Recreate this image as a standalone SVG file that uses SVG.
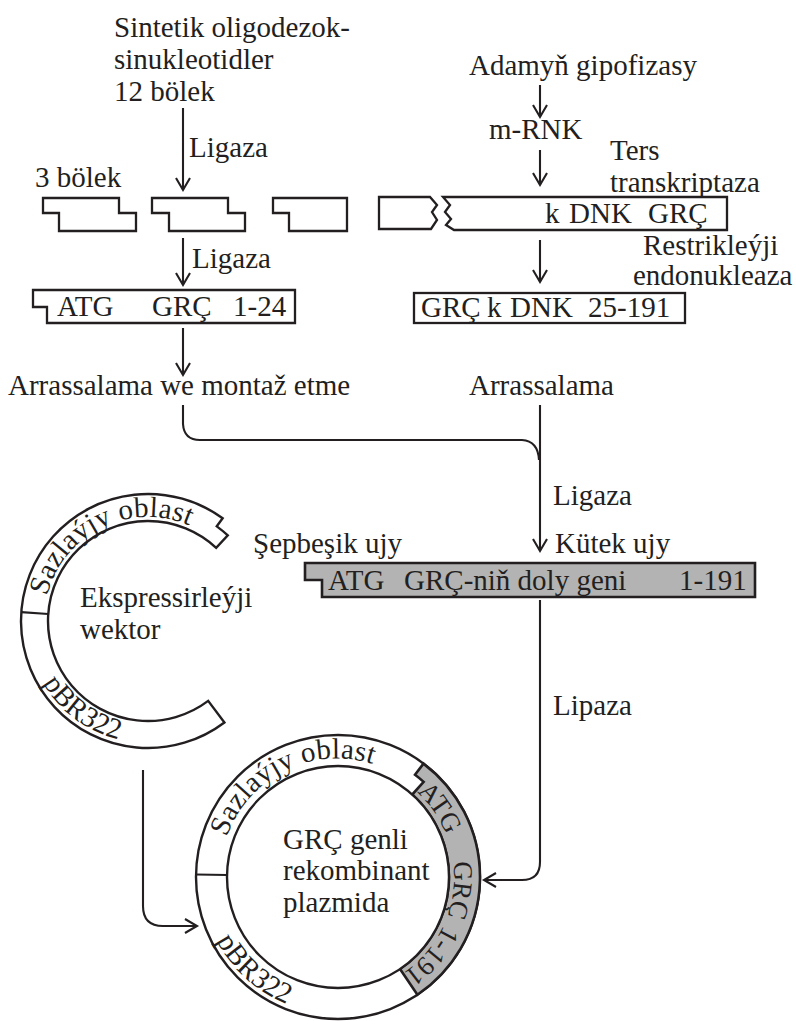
<svg xmlns="http://www.w3.org/2000/svg" xmlns:xlink="http://www.w3.org/1999/xlink" width="796" height="1021" viewBox="0 0 796 1021">
<style>
text{font-family:"Liberation Serif","Times New Roman",serif;font-size:29px;fill:#231f20}
.arc{font-size:27px}
.ln{fill:none;stroke:#231f20;stroke-width:2.1}
.bx{fill:#fff;stroke:#231f20;stroke-width:2.3}
.gr{fill:#b3b3b3;stroke:#231f20;stroke-width:2.6}
.ring{fill:#fff;stroke:#231f20;stroke-width:2.4}
</style>
<defs>
<marker id="ah" markerUnits="userSpaceOnUse" markerWidth="18" markerHeight="18" viewBox="0 0 18 18" refX="15" refY="9" orient="auto">
<path d="M3,2 L15,9 L3,16" fill="none" stroke="#231f20" stroke-width="2.1"/>
</marker>
<path id="tpC1" d="M44.4,611.9 A104,104 0 0 1 227.7,554.1"/>
<path id="tpC2" d="M30.16,652.58 A122,122 0 0 0 189.73,735.64"/>
<path id="tpP1" d="M221.79,856.51 A117,117 0 0 1 397,774.81"/>
<path id="tpP2" d="M205.67,912.46 A137,137 0 0 0 361.79,1011.92"/>
<path id="tpG" d="M396,776.54 A116,116 0 0 1 396,977.46"/>
</defs>

<g id="labels">
<text x="114" y="37">Sintetik oligodezok-</text>
<text x="114" y="69">sinukleotidler</text>
<text x="114" y="101">12 bölek</text>
<text x="189" y="157">Ligaza</text>
<text x="35" y="187">3 bölek</text>
<text x="469" y="75">Adamyň gipofizasy</text>
<text x="489" y="139">m-RNK</text>
<text x="610" y="160">Ters</text>
<text x="610" y="192">transkriptaza</text>
<text x="643" y="255">Restrikleýji</text>
<text x="633" y="285">endonukleaza</text>
<text x="192" y="268">Ligaza</text>
<text x="8" y="395">Arrassalama we montaž etme</text>
<text x="469" y="395">Arrassalama</text>
<text x="553" y="505">Ligaza</text>
<text x="253" y="553">Şepbeşik ujy</text>
<text x="555" y="553">Kütek ujy</text>
<text x="553" y="715">Lipaza</text>
</g>

<g id="fragment1"><path class="bx" d="M43,198 H119 V213 H136 V231 H59 V213 H43 Z"/></g>
<g id="fragment2"><path class="bx" d="M152,198 H228 V213 H245 V231 H169 V213 H152 Z"/></g>
<g id="fragment3"><path class="bx" d="M273,198 H347 V231 H289 V213 H273 Z"/></g>

<g id="cdna">
<path class="bx" d="M379,197 H430 L437,205 L432,212 L437,220 L431,229 H379 Z"/>
<path class="bx" d="M443,197 H727 V230 H454 L446,225 L451,219 L445,212 L450,205 Z"/>
<text y="223"><tspan x="545">k</tspan><tspan x="569">DNK</tspan><tspan x="648">GRÇ</tspan></text>
</g>

<g id="box-atg124">
<path class="bx" d="M33,290 H295 V323 H47 V307 H33 Z"/>
<text x="57" y="316">ATG</text>
<text x="152" y="316">GRÇ</text>
<text x="233" y="316">1-24</text>
</g>

<g id="box-cdna25">
<rect class="bx" x="414" y="293" width="271" height="30"/>
<text y="317"><tspan x="421">GRÇ</tspan><tspan x="487">k</tspan><tspan x="510">DNK</tspan><tspan x="588">25-191</tspan></text>
</g>

<g id="box-gene">
<path class="gr" d="M305,563 H755 V597 H322 V580 H305 Z"/>
<text x="328" y="590">ATG</text>
<text x="404" y="590">GRÇ-niň doly geni</text>
<text x="679" y="590">1-191</text>
</g>

<g id="vector">
<path class="ring" d="M222.65,518.26 A127,127 0 1 0 224.43,722.42 L208.18,700.86 A100,100 0 1 1 216.20,547.86 L227.79,535.43 A117,117 0 0 0 216.77,526.35 Z"/>
<line class="ln" x1="21.3" y1="612.14" x2="48.24" y2="614.02"/>
<text letter-spacing="0.3"><textPath xlink:href="#tpC1" startOffset="16">Sazlaýjy oblast</textPath></text>
<text><textPath xlink:href="#tpC2" startOffset="33">pBR322</textPath></text>
<text x="80" y="607">Ekspressirleýji</text>
<text x="80" y="639">wektor</text>
</g>

<g id="plasmid">
<circle class="ring" cx="338" cy="877" r="142"/>
<path class="gr" d="M423.46,763.60 A142,142 0 0 1 417.41,994.72 L400.07,969.02 A111,111 0 0 0 412.27,794.51 L423.65,781.88 A128,128 0 0 0 415.03,774.78 Z"/>
<circle class="ring" cx="338" cy="877" r="111"/>
<line class="ln" x1="196.02" y1="874.52" x2="227.02" y2="875.06"/>
<text letter-spacing="0.3"><textPath xlink:href="#tpP1" startOffset="20">Sazlaýjy oblast</textPath></text>
<text><textPath xlink:href="#tpP2" startOffset="30">pBR322</textPath></text>
<text class="arc"><textPath xlink:href="#tpG" startOffset="26">ATG</textPath></text>
<text class="arc"><textPath xlink:href="#tpG" startOffset="106">GRÇ</textPath></text>
<text class="arc"><textPath xlink:href="#tpG" startOffset="171">1-191</textPath></text>
<text x="283" y="849">GRÇ genli</text>
<text x="283" y="880">rekombinant</text>
<text x="283" y="912">plazmida</text>
</g>

<g id="connectors">
<line class="ln" x1="183" y1="108" x2="183" y2="190" marker-end="url(#ah)"/>
<line class="ln" x1="183" y1="238" x2="183" y2="285" marker-end="url(#ah)"/>
<line class="ln" x1="183" y1="328" x2="183" y2="375" marker-end="url(#ah)"/>
<line class="ln" x1="540" y1="85" x2="540" y2="117" marker-end="url(#ah)"/>
<line class="ln" x1="540" y1="150" x2="540" y2="185" marker-end="url(#ah)"/>
<line class="ln" x1="540" y1="240" x2="540" y2="282" marker-end="url(#ah)"/>
<path class="ln" d="M183,405 V424 Q184,440 200,440 H522 Q538,441 539,460"/>
<line class="ln" x1="540" y1="405" x2="540" y2="551" marker-end="url(#ah)"/>
<path class="ln" d="M540,600 V862 Q540,880 522,880 H484" marker-end="url(#ah)"/>
<path class="ln" d="M143,770 V906 Q143,926 163,926 H197" marker-end="url(#ah)"/>
</g>
</svg>
